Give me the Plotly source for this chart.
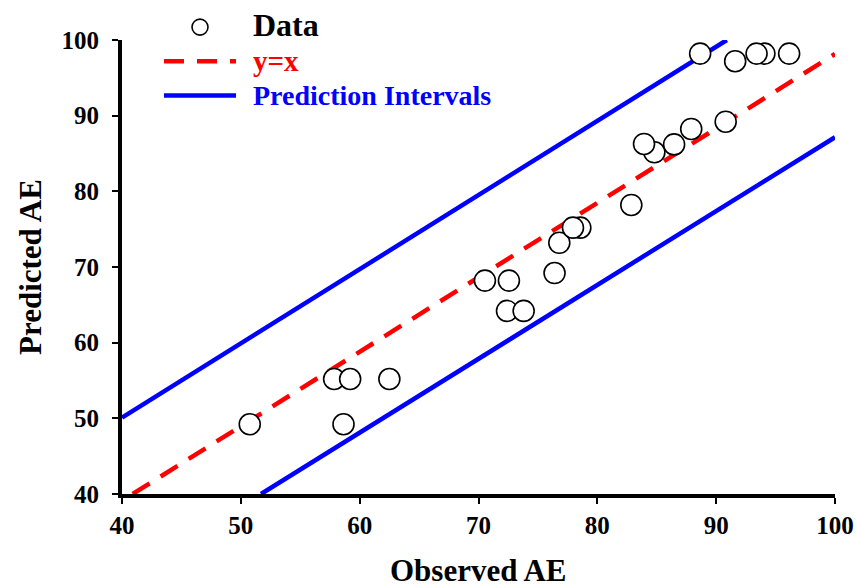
import plotly.graph_objects as go

# Data
observed = [50.75, 57.85, 59.2, 58.64, 62.5, 70.54, 72.56, 72.4, 73.8, 76.4, 76.8,
            78.57, 77.95, 82.86, 84.8, 83.93, 86.46, 87.9, 90.8, 88.65, 91.6,
            94.06, 93.4, 96.14]
predicted = [49.22, 55.2, 55.2, 49.22, 55.2, 68.2, 68.2, 64.2, 64.2, 69.2, 73.2,
             75.2, 75.2, 78.2, 85.16, 86.26, 86.2, 88.24, 89.2, 98.2, 97.2,
             98.2, 98.2, 98.2]

yx_x = [40.9, 100]
yx_y = [40, 98.15]
upper_x = [40, 90.9]
upper_y = [50.1, 100]
lower_x = [51.7, 100]
lower_y = [40, 87.15]

x_ticks = [40, 50, 60, 70, 80, 90, 100]
y_ticks = [40, 50, 60, 70, 80, 90, 100]

FONT = "Liberation Serif"
GAP = "&nbsp;&nbsp;"

fig = go.Figure()
fig.add_trace(go.Scatter(
    x=yx_x, y=yx_y, mode="lines",
    name=GAP + "<span style='color:#ff0000;font-size:29px'>y=x</span>",
    line=dict(color="#ff0000", width=4.5, dash="20px,13px"), legendrank=2,
))
fig.add_trace(go.Scatter(
    x=upper_x, y=upper_y, mode="lines",
    name=GAP + "<span style='color:#0000ff;font-size:28px'>Prediction Intervals</span>",
    line=dict(color="#0000ff", width=4.5), legendgroup="pi", legendrank=3,
))
fig.add_trace(go.Scatter(
    x=lower_x, y=lower_y, mode="lines", showlegend=False,
    line=dict(color="#0000ff", width=4.5), legendgroup="pi",
))
fig.add_trace(go.Scatter(
    x=observed, y=predicted, mode="markers",
    name=GAP + "<span style='font-size:32px'>Data</span>", legendrank=1,
    marker=dict(symbol="circle", size=21, color="white",
                line=dict(color="black", width=1.6)),
))

fig.update_layout(
    width=856, height=585,
    margin=dict(l=122, r=21, t=40, b=91, autoexpand=False),
    paper_bgcolor="white", plot_bgcolor="white",
    font=dict(family=FONT, size=22, color="black"),
    showlegend=True,
    legend=dict(
        xref="paper", yref="paper",
        x=(159 - 122) / 713, y=1 + 35 / 454, xanchor="left", yanchor="top",
        bgcolor="rgba(0,0,0,0)", borderwidth=0,
        font=dict(family=FONT, size=24, color="black", weight="bold"),
        traceorder="normal", itemwidth=72, tracegroupgap=0,
    ),
    annotations=[
        dict(text="<b>Observed AE</b>", xref="paper", yref="paper", x=0.5, y=0,
             xanchor="center", yanchor="middle", yshift=-76, showarrow=False,
             font=dict(family=FONT, size=31, color="black")),
        dict(text="<b>Predicted AE</b>", xref="paper", yref="paper", x=0, y=0.5,
             xanchor="center", yanchor="middle", xshift=-92, textangle=-90,
             showarrow=False, font=dict(family=FONT, size=31, color="black")),
    ],
)
fig.update_xaxes(
    range=[40, 100], tickvals=x_ticks, ticktext=[str(v) for v in x_ticks],
    showgrid=False, zeroline=False, showline=True, linecolor="black", linewidth=4,
    ticks="outside", ticklen=6, tickwidth=2, tickcolor="black",
    tickfont=dict(family=FONT, size=25, weight="bold"), ticklabelstandoff=0,
    automargin=False,
)
fig.update_yaxes(
    range=[40, 100], tickvals=y_ticks, ticktext=[str(v) for v in y_ticks],
    showgrid=False, zeroline=False, showline=True, linecolor="black", linewidth=4,
    ticks="outside", ticklen=6, tickwidth=2, tickcolor="black",
    tickfont=dict(family=FONT, size=25, weight="bold"), ticklabelstandoff=8,
    automargin=False,
)

# remove the default page margin so the figure fills the window exactly
fig.write_html(
    "out.html",
    config={"displayModeBar": False},
    post_script="document.body.style.margin='0';document.body.style.overflow='hidden';",
)
